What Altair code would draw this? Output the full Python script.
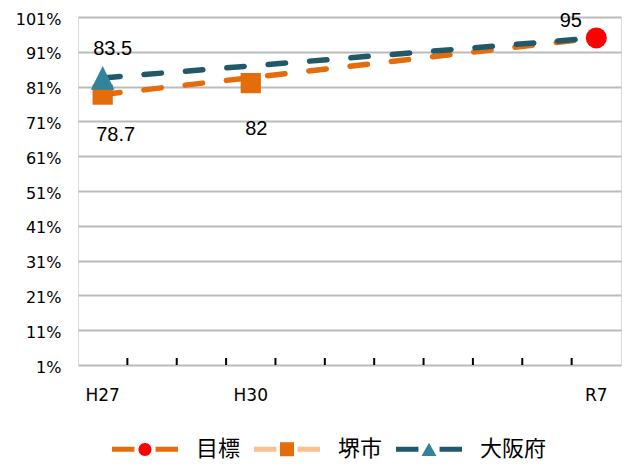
import altair as alt
import pandas as pd

# ---------------- data ----------------
categories = ["H27", "H28", "H29", "H30", "R1", "R2", "R3", "R4", "R5", "R6", "R7"]
x_labels = ["H27", "H30", "R7"]
y_ticks = [1, 11, 21, 31, 41, 51, 61, 71, 81, 91, 101]

series_names = ["目標", "堺市", "大阪府"]

sakai_years = ["H27", "H30"]
sakai_values = [78.7, 82]
osaka_years = ["H27"]
osaka_values = [83.5]
target_years = ["R7"]
target_values = [95]

sakai_line_years = ["H27", "R7"]
sakai_line_values = [78.7, 95]
osaka_line_years = ["H27", "R7"]
osaka_line_values = [83.5, 95]

# ---------------- styles ----------------
ORANGE = "#E46C0A"
RED = "#FF0000"
PEACH = "#FAC090"
TEAL_DARK = "#215968"
TEAL = "#31849B"
NUM_FONT = "Liberation Sans"
AX_FONT = "DejaVu Sans"
JP_FONT = "Noto Sans CJK JP"

sakai_df = pd.DataFrame({"year": sakai_years, "value": sakai_values})
osaka_df = pd.DataFrame({"year": osaka_years, "value": osaka_values})
target_df = pd.DataFrame({"year": target_years, "value": target_values})
sakai_line_df = pd.DataFrame({"year": sakai_line_years, "value": sakai_line_values})
osaka_line_df = pd.DataFrame({"year": osaka_line_years, "value": osaka_line_values})
tick_df = pd.DataFrame({"year": categories[1:]})

mark_names = [s + " " for s in series_names]
legend_df = pd.DataFrame({
    "lg_line": series_names,
    "lg_mark": mark_names,
    "year": target_years + sakai_years[:1] + osaka_years,
    "value": target_values + sakai_values[:1] + osaka_values,
})

x_scale = alt.Scale(type="band", domain=categories, paddingInner=0, paddingOuter=0)
y_scale = alt.Scale(domain=[1, 101], nice=False, zero=False)
x_axis = alt.Axis(values=x_labels, title=None, domain=False, ticks=False, grid=False,
                  labelFontSize=17, labelPadding=22, labelColor="black",
                  labelFont=AX_FONT, labelAngle=0)
y_axis = alt.Axis(values=y_ticks, title=None, domain=False, ticks=False, grid=True,
                  gridColor="#BBBBBB", gridWidth=2, labelExpr="datum.value + '%'",
                  labelFontSize=16, labelPadding=17, labelColor="black",
                  labelFont=AX_FONT, labelOffset=2)

X = lambda: alt.X("year:N", scale=x_scale, axis=x_axis)
Y = lambda: alt.Y("value:Q", scale=y_scale, axis=y_axis)

EXTENT = "M-1,0L-1,0M1,0L1,0"
LINE_PATH = "M-1,0L-0.32,0M0.32,0L1,0"
CIRCLE_P = EXTENT + "M-0.197,0A0.197,0.197,0,1,1,0.197,0A0.197,0.197,0,1,1,-0.197,0Z"
SQUARE_P = EXTENT + "M-0.212,-0.212L0.212,-0.212L0.212,0.212L-0.212,0.212Z"
TRI_P = EXTENT + "M0,-0.2L0.227,0.2L-0.227,0.2Z"
TRI_BIG = "M0,-1L1,1L-1,1Z"

legend_common = dict(orient="none", legendX=31.5, legendY=396.5, direction="horizontal",
                     title=None, symbolSize=4356, symbolStrokeWidth=5, symbolOpacity=1,
                     labelFontSize=22, labelFont=JP_FONT, labelOffset=15.5,
                     columnPadding=3, padding=0, labelColor="black")

line_legend = alt.Legend(symbolType=LINE_PATH, **legend_common)
mark_legend = alt.Legend(symbolStrokeColor="transparent", labelOpacity=0,
                         labelExpr="trim(datum.label)", **legend_common)

dash = [17.5, 24]

ticks = alt.Chart(tick_df).mark_rule(color="black", strokeWidth=2).encode(
    x=alt.X("year:N", scale=x_scale, axis=x_axis, bandPosition=0),
    y=alt.value(348), y2=alt.value(341))

sakai_line = alt.Chart(sakai_line_df).mark_line(
    color=ORANGE, strokeWidth=5.5, strokeDash=dash, strokeCap="round").encode(x=X(), y=Y())
osaka_line = alt.Chart(osaka_line_df).mark_line(
    color=TEAL_DARK, strokeWidth=5.5, strokeDash=dash, strokeCap="round").encode(x=X(), y=Y())

sakai_pts = alt.Chart(sakai_df).mark_square(
    size=410, color=ORANGE, opacity=1).encode(x=X(), y=Y())
osaka_pts = alt.Chart(osaka_df).mark_point(
    filled=True, shape=TRI_BIG, size=560, color=TEAL, opacity=1).encode(x=X(), y=Y())
target_pts = alt.Chart(target_df).mark_circle(
    size=441, color=RED, opacity=1).encode(x=X(), y=Y())

def label(df, dx, dy):
    return alt.Chart(df).mark_text(
        font=NUM_FONT, fontSize=20, color="black", dx=dx, dy=dy,
        baseline="alphabetic", align="center").encode(
        x=X(), y=Y(), text=alt.Text("value:Q"))

lbl_osaka = label(osaka_df, 10, -23)
lbl_sakai1 = label(sakai_df.iloc[[0]], 13, 46)
lbl_sakai2 = label(sakai_df.iloc[[1]], 5.5, 52)
lbl_target = label(target_df, -25.5, -11)

hidden_lines = alt.Chart(legend_df).mark_line(opacity=0).encode(
    x=X(), y=Y(),
    stroke=alt.Stroke("lg_line:N",
                      scale=alt.Scale(domain=series_names, range=[ORANGE, PEACH, TEAL_DARK]),
                      legend=line_legend))
hidden_marks = alt.Chart(legend_df).mark_point(filled=True, opacity=0).encode(
    x=X(), y=Y(),
    fill=alt.Fill("lg_mark:N",
                  scale=alt.Scale(domain=mark_names, range=[RED, ORANGE, TEAL]),
                  legend=mark_legend),
    shape=alt.Shape("lg_mark:N",
                    scale=alt.Scale(domain=mark_names, range=[CIRCLE_P, SQUARE_P, TRI_P]),
                    legend=mark_legend))

chart = alt.layer(
    hidden_lines, hidden_marks, ticks, sakai_line, osaka_line,
    sakai_pts, osaka_pts, target_pts,
    lbl_osaka, lbl_sakai1, lbl_sakai2, lbl_target,
).properties(
    width=543, height=348,
    padding={"left": 70, "top": 9, "right": 2, "bottom": 96},
    autosize=alt.AutoSizeParams(type="none"),
).configure_view(
    stroke="black", strokeWidth=2
).configure(background="white")

chart.save("out.html", embed_options={"renderer": "svg", "actions": False})
